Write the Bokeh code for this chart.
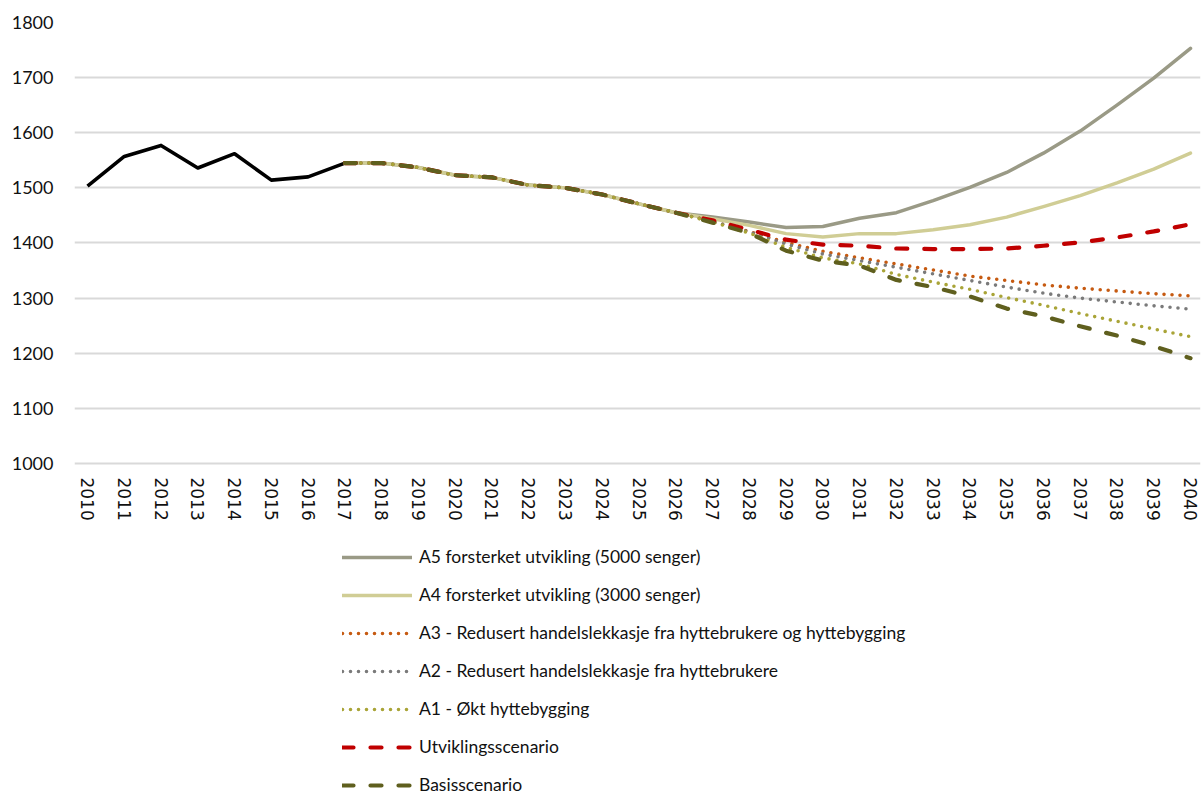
from bokeh.plotting import figure
from bokeh.models import FixedTicker, Legend, LegendItem, Range1d
from bokeh.embed import file_html
from bokeh.resources import INLINE

hist_years = list(range(2010, 2018))
historical = [1503, 1557, 1577, 1536, 1562, 1514, 1520, 1545]

scen_years = list(range(2017, 2041))
shared = [1545, 1545, 1537, 1523, 1519, 1505, 1500, 1488, 1471, 1455]

a5_tail = [1447, 1438, 1428, 1430, 1445, 1455, 1477, 1501, 1528, 1563, 1603, 1650, 1699, 1753]
a4_tail = [1444, 1432, 1417, 1411, 1417, 1417, 1424, 1433, 1447, 1466, 1486, 1509, 1534, 1563]
a3_tail = [1439, 1421, 1401, 1385, 1373, 1362, 1351, 1340, 1332, 1324, 1318, 1313, 1308, 1304]
a2_tail = [1439, 1420, 1398, 1380, 1368, 1356, 1344, 1332, 1320, 1309, 1300, 1293, 1286, 1280]
a1_tail = [1438, 1418, 1392, 1373, 1362, 1343, 1329, 1316, 1301, 1287, 1272, 1258, 1244, 1230]
utv_tail = [1441, 1424, 1406, 1397, 1395, 1390, 1389, 1389, 1390, 1395, 1401, 1410, 1421, 1434]
basis_tail = [1437, 1418, 1386, 1368, 1359, 1333, 1320, 1303, 1281, 1267, 1249, 1232, 1213, 1191]

y_ticks = [1000, 1100, 1200, 1300, 1400, 1500, 1600, 1700, 1800]
x_ticks = list(range(2010, 2041))

labels = [
    "A5 forsterket utvikling (5000 senger)",
    "A4 forsterket utvikling (3000 senger)",
    "A3 - Redusert handelslekkasje fra hyttebrukere og hyttebygging",
    "A2 - Redusert handelslekkasje fra hyttebrukere",
    "A1 - Økt hyttebygging",
    "Utviklingsscenario",
    "Basisscenario",
]
tails = [a5_tail, a4_tail, a3_tail, a2_tail, a1_tail, utv_tail, basis_tail]
colors = ["#9A9A86", "#D0CD95", "#C65A11", "#7A7A7A", "#A9A437", "#C00000", "#5F5F1E"]
dashes = ["solid", "solid", "0 8", "0 8", "0 8", "11 17", "11 17"]
widths = [3.5, 3.5, 3.6, 3.6, 3.6, 4.2, 4.2]

# frame spans the whole lower area so the legend (clipped to frame) fits below the axis
p = figure(width=1201, height=796, output_backend="svg", toolbar_location=None,
           x_range=Range1d(2009.646, 2040.272), y_range=Range1d(395.9, 1800),
           min_border_left=74, min_border_right=1, min_border_top=22, min_border_bottom=0)
p.outline_line_color = None
p.background_fill_color = "white"
p.border_fill_color = "white"
p.xgrid.grid_line_color = None
p.ygrid.grid_line_color = "#D9D9D9"
p.ygrid.grid_line_width = 2
p.yaxis.ticker = FixedTicker(ticks=y_ticks)
p.xaxis.ticker = FixedTicker(ticks=x_ticks)
p.xaxis.fixed_location = 1000
p.xaxis.major_label_orientation = "vertical"
for ax in (p.xaxis, p.yaxis):
    ax.axis_line_color = None
    ax.major_tick_line_color = None
    ax.minor_tick_line_color = None
    ax.major_tick_out = 0
    ax.major_tick_in = 0
    ax.minor_tick_out = 0
    ax.major_label_text_color = "#111111"
p.yaxis.major_label_text_font = "Lato"
p.yaxis.major_label_text_font_size = "18px"
p.yaxis.major_label_standoff = 21
p.xaxis.major_label_text_font = "DejaVu Sans"
p.xaxis.major_label_text_font_size = "17px"
p.xaxis.major_label_standoff = 14

p.line(hist_years, historical, line_color="black", line_width=3.6, line_join="round")

items = []
for lab, tail, col, dsh, w in zip(labels, tails, colors, dashes, widths):
    r = p.line(scen_years, shared + tail, line_color=col, line_width=w,
               line_dash=dsh, line_cap="round", line_join="round")
    items.append(LegendItem(label=lab, renderers=[r]))

legend = Legend(items=items, location=(268, 1), orientation="vertical",
                glyph_width=70, glyph_height=16, label_height=16, spacing=17,
                label_standoff=7, padding=0, margin=0,
                border_line_color=None, background_fill_alpha=0,
                label_text_font="Lato", label_text_font_size="17.5px",
                label_text_color="#111111")
p.add_layout(legend, "center")

open("out.html", "w").write(file_html(p, INLINE))
